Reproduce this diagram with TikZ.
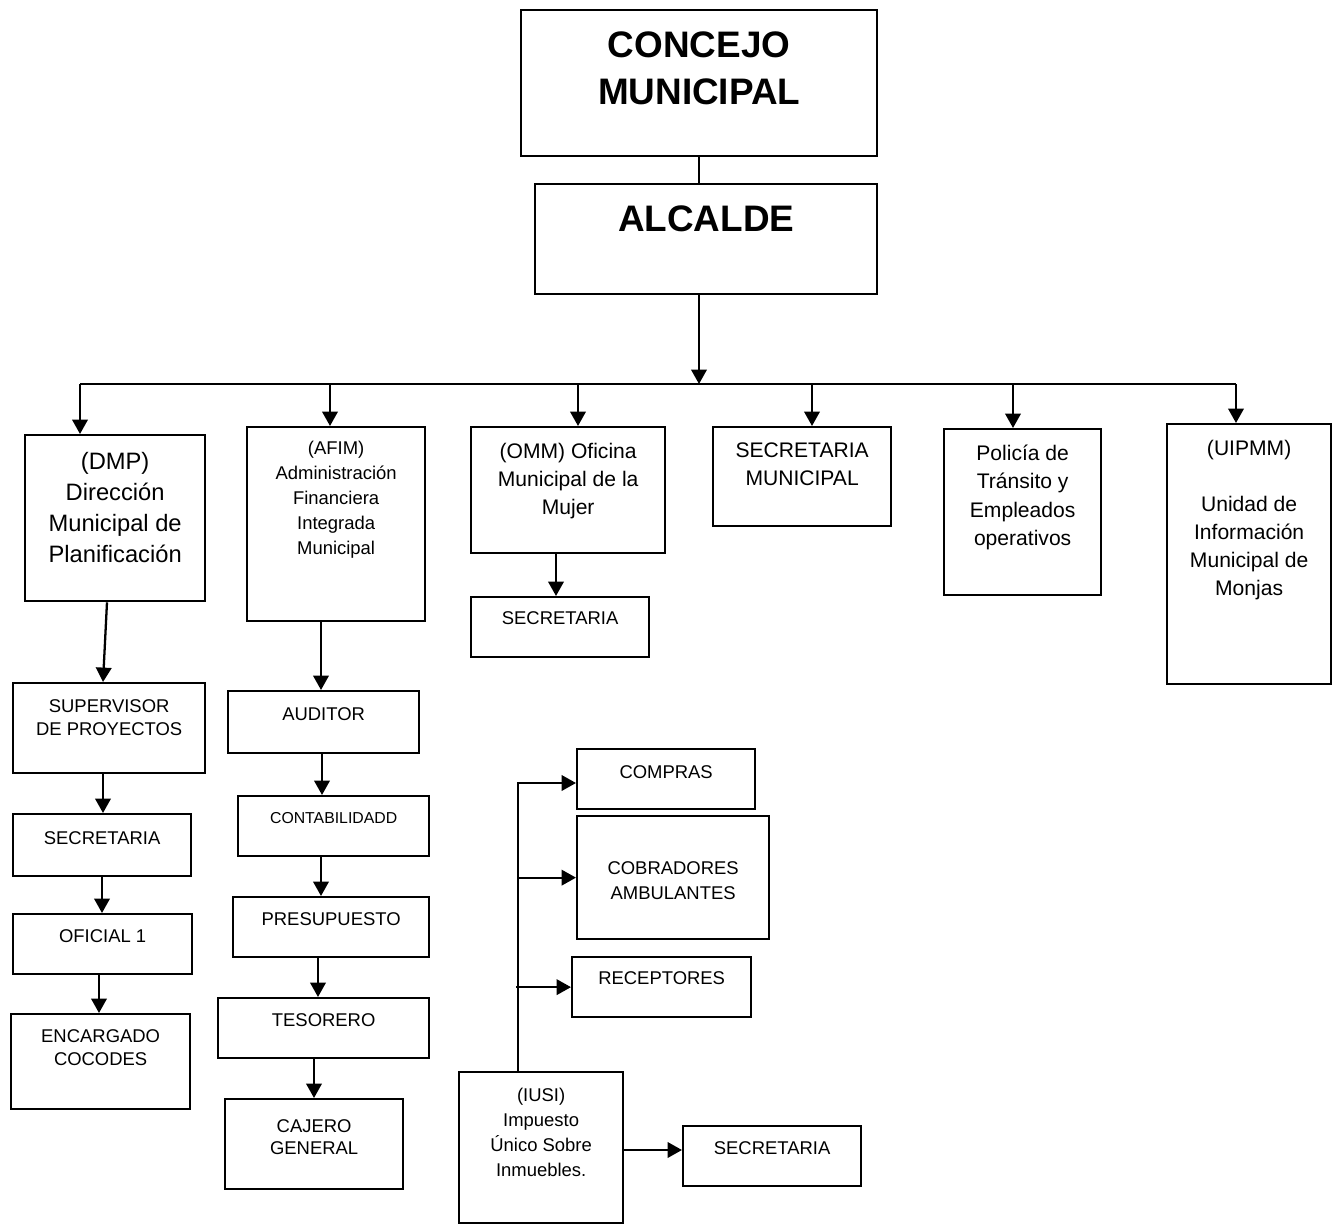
\documentclass[tikz,border=0pt]{standalone}
\usepackage{fontspec}
\setmainfont{Liberation Sans}
\usetikzlibrary{arrows.meta}

\newdimen\pxu
\pxu=0.02cm

\tikzset{
  orgbox/.style n args={3}{draw, line width=1.3pt, inner sep=0pt, anchor=north west,
    execute at begin node={\begin{minipage}[t][#2\pxu][t]{#1\pxu}\centering\rule{0pt}{#3\pxu}},
    execute at end node={\end{minipage}}},
  titletext/.style={font=\fontsize{21pt}{26.7pt}\selectfont\bfseries},
  bigtext/.style={font=\fontsize{13.5pt}{17.6pt}\selectfont},
  midtext/.style={font=\fontsize{12pt}{15.9pt}\selectfont},
  smalltext/.style={font=\fontsize{10.5pt}{13pt}\selectfont},
  link/.style={line width=1.3pt},
  arr/.style={link, -{Triangle[length=8.2pt,width=8.8pt]}}
}

\begin{document}
\begin{tikzpicture}[x=0.02cm, y=-0.02cm]
    \useasboundingbox (0,0) rectangle (1333,1224);

    % Top
    \node[orgbox={356}{146}{47}, titletext] (concejo) at (520,9) {CONCEJO\\MUNICIPAL};
    \node[orgbox={342}{110}{47}, titletext] (alcalde) at (534,183) {ALCALDE};

    % Departments
    \node[orgbox={180}{166}{34.5}, bigtext] (dmp) at (24,434) {(DMP)\\Dirección\\Municipal de\\Planificación};
    \node[orgbox={178}{194}{27.6}, smalltext, font=\fontsize{10.5pt}{14.2pt}\selectfont] (afim) at (246,426) {(AFIM)\\Administración\\Financiera\\Integrada\\Municipal};
    \node[orgbox={194}{126}{31.5}, midtext] (omm) at (470,426) {(OMM) Oficina\\Municipal de la\\Mujer};
    \node[orgbox={178}{99}{30.5}, midtext] (secmun) at (712,426) {SECRETARIA\\MUNICIPAL};
    \node[orgbox={157}{166}{31.5}, midtext, font=\fontsize{12pt}{16.1pt}\selectfont] (policia) at (943,428) {Policía de\\Tránsito y\\Empleados\\operativos};
    \node[orgbox={164}{260}{31.5}, midtext] (uipmm) at (1166,423) {(UIPMM)\\[15.9pt]Unidad de\\Información\\Municipal de\\Monjas};

    % DMP column
    \node[orgbox={192}{90}{29.6}, smalltext] (superv) at (12,682) {SUPERVISOR\\DE PROYECTOS};
    \node[orgbox={178}{62}{30.6}, smalltext] (dmpsec) at (12,813) {SECRETARIA};
    \node[orgbox={179}{60}{28.6}, smalltext] (oficial) at (12,913) {OFICIAL 1};
    \node[orgbox={179}{95}{28.6}, smalltext] (encarg) at (10,1013) {ENCARGADO\\COCODES};

    % AFIM column
    \node[orgbox={191}{62}{29.6}, smalltext] (auditor) at (227,690) {AUDITOR};
    \node[orgbox={191}{60}{27.7}, font=\fontsize{9pt}{11pt}\selectfont] (conta) at (237,795) {CONTABILIDADD};
    \node[orgbox={196}{60}{28.6}, smalltext] (presu) at (232,896) {PRESUPUESTO};
    \node[orgbox={211}{60}{28.6}, smalltext] (tesor) at (217,997) {TESORERO};
    \node[orgbox={178}{90}{33.6}, smalltext, font=\fontsize{10.5pt}{12.5pt}\selectfont] (cajero) at (224,1098) {CAJERO\\GENERAL};

    % OMM
    \node[orgbox={178}{60}{27.6}, smalltext] (ommsec) at (470,596) {SECRETARIA};

    % IUSI group
    \node[orgbox={178}{60}{29.6}, smalltext] (compras) at (576,748) {COMPRAS};
    \node[orgbox={192}{123}{58.6}, smalltext, font=\fontsize{10.5pt}{14.2pt}\selectfont] (cobrad) at (576,815) {COBRADORES\\AMBULANTES};
    \node[orgbox={179}{60}{27.6}, smalltext] (recep) at (571,956) {RECEPTORES};
    \node[orgbox={164}{151}{29.6}, smalltext, font=\fontsize{10.5pt}{14.2pt}\selectfont] (iusi) at (458,1071) {(IUSI)\\Impuesto\\Único Sobre\\Inmuebles.};
    \node[orgbox={178}{60}{28.6}, smalltext] (iusisec) at (682,1125) {SECRETARIA};

    % Top links and bus
    \coordinate (hub) at (699,384);
    \draw[link] (concejo.south) -- (concejo.south |- alcalde.north);
    \draw[arr] (alcalde.south -| hub) -- (hub);
    \draw[link] (80,384) -- (1236,384);
    \foreach \x/\n in {80/dmp, 330/afim, 578/omm, 812/secmun, 1013/policia, 1236/uipmm}
        \draw[arr] (\x,384) -- (\n.north -| \x,0);

    % DMP chain
    \draw[arr] (dmp.south -| 107,0) -- (superv.north -| 103,0);
    \draw[arr] (superv.south -| 103,0) -- (dmpsec.north -| 103,0);
    \draw[arr] (dmpsec.south -| 102,0) -- (oficial.north -| 102,0);
    \draw[arr] (oficial.south -| 99,0) -- (encarg.north -| 99,0);

    % AFIM chain
    \draw[arr] (afim.south -| 321,0) -- (auditor.north -| 321,0);
    \draw[arr] (auditor.south -| 322,0) -- (conta.north -| 322,0);
    \draw[arr] (conta.south -| 321,0) -- (presu.north -| 321,0);
    \draw[arr] (presu.south -| 318,0) -- (tesor.north -| 318,0);
    \draw[arr] (tesor.south -| 314,0) -- (cajero.north -| 314,0);

    % OMM
    \draw[arr] (omm.south -| 556,0) -- (ommsec.north -| 556,0);

    % IUSI links
    \draw[arr] (iusi.north -| 518,0) |- (compras.west |- 0,783);
    \draw[arr] (cobrad.west -| 518,0) -- (cobrad.west);
    \draw[arr] (recep.west -| 516,0) -- (recep.west);
    \draw[arr] (iusi.east |- 0,1150) -- (iusisec.west |- 0,1150);

\end{tikzpicture}
\end{document}
